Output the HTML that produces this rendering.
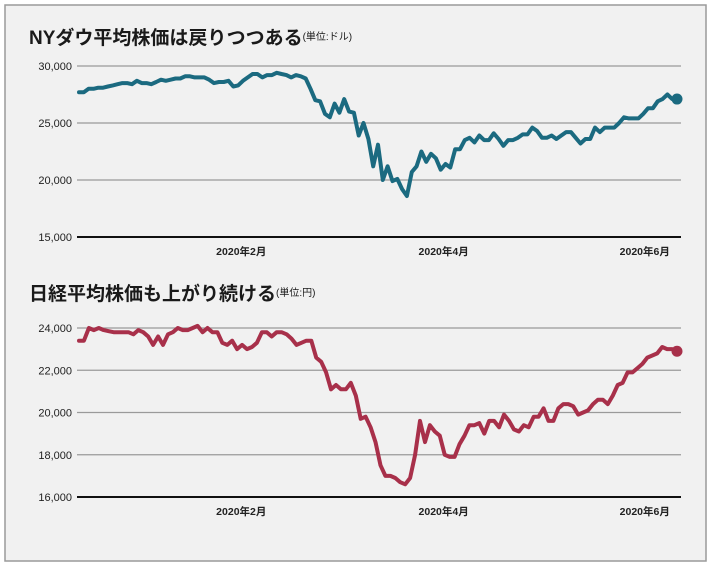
<!DOCTYPE html>
<html><head><meta charset="utf-8">
<style>
html,body{margin:0;padding:0;background:#fff;}
body{width:710px;height:566px;overflow:hidden;font-family:"Liberation Sans","Noto Sans CJK JP",sans-serif;}
</style></head>
<body>
<svg id="svg" width="710" height="566" xmlns="http://www.w3.org/2000/svg">
<rect x="5" y="5" width="701" height="556" fill="#f1f1f1" stroke="#9a9a9a" stroke-width="1.5"/>
<text x="29" y="44" font-size="19" font-weight="bold" fill="#1a1a1a" font-family="'Liberation Sans','Noto Sans CJK JP',sans-serif">NYダウ平均株価は戻りつつある<tspan font-size="10" font-weight="normal" dy="-4">(単位:ドル)</tspan></text>
<text x="29" y="300" font-size="19" font-weight="bold" fill="#1a1a1a" font-family="'Liberation Sans','Noto Sans CJK JP',sans-serif">日経平均株価も上がり続ける<tspan font-size="10" font-weight="normal" dy="-4">(単位:円)</tspan></text>
<g id="g1"></g><g id="g2"></g>
</svg>
<script>
const dowTicks=[15000,20000,25000,30000];
const dowTickLabels=["15,000","20,000","25,000","30,000"];
const dowValues=[27.7,27.7,28.0,28.0,28.1,28.1,28.2,28.3,28.4,28.5,28.5,28.4,28.7,28.5,28.5,28.4,28.6,28.8,28.7,28.8,28.9,28.9,29.1,29.1,29.0,29.0,29.0,28.8,28.5,28.6,28.6,28.7,28.2,28.3,28.7,29.0,29.3,29.3,29.0,29.2,29.2,29.4,29.3,29.2,29.0,29.2,29.1,28.9,28.0,27.0,26.9,25.8,25.5,26.7,25.9,27.1,26.0,25.9,23.9,25.0,23.6,21.2,23.1,20.0,21.2,19.9,20.1,19.2,18.6,20.7,21.2,22.5,21.6,22.3,21.9,20.9,21.4,21.1,22.7,22.7,23.5,23.7,23.3,23.9,23.5,23.5,24.1,23.6,23.0,23.5,23.5,23.7,24.0,24.0,24.6,24.3,23.7,23.7,23.9,23.6,23.9,24.2,24.2,23.7,23.2,23.6,23.6,24.6,24.2,24.6,24.6,24.6,25.0,25.5,25.4,25.4,25.4,25.8,26.3,26.3,26.9,27.1,27.5,27.1,27.1];
const nikkeiTicks=[16000,18000,20000,22000,24000];
const nikkeiTickLabels=["16,000","18,000","20,000","22,000","24,000"];
const nikkeiValues=[23.4,23.4,24.0,23.9,24.0,23.9,23.85,23.8,23.8,23.8,23.8,23.7,23.9,23.8,23.6,23.2,23.6,23.2,23.7,23.8,24.0,23.9,23.9,24.0,24.1,23.8,24.0,23.8,23.8,23.3,23.2,23.4,23.0,23.2,23.0,23.1,23.3,23.8,23.8,23.6,23.8,23.8,23.7,23.5,23.2,23.3,23.4,23.4,22.6,22.4,21.9,21.1,21.3,21.1,21.1,21.4,20.8,19.7,19.8,19.3,18.6,17.5,17.0,17.0,16.9,16.7,16.6,16.9,18.0,19.6,18.6,19.4,19.1,18.9,18.0,17.9,17.9,18.5,18.9,19.4,19.4,19.5,19.0,19.6,19.6,19.3,19.9,19.6,19.2,19.1,19.4,19.3,19.8,19.8,20.2,19.6,19.6,20.2,20.4,20.4,20.3,19.9,20.0,20.1,20.4,20.6,20.6,20.4,20.8,21.3,21.4,21.9,21.9,22.1,22.3,22.6,22.7,22.8,23.1,23.0,23.0,22.9];
const monthLabels=["2020年2月","2020年4月","2020年6月"];
const monthPos=[0.272,0.607,0.94];
const NS="http://www.w3.org/2000/svg";
function mk(tag,attrs,parent){const e=document.createElementNS(NS,tag);for(const k in attrs)e.setAttribute(k,attrs[k]);parent.appendChild(e);return e;}
function draw(gid,ticks,labels,values,vmin,vmax,yTop,yBot,color,prefix){
  const g=document.getElementById(gid);
  const x0=77,x1=681,lx0=79,lx1=677;
  const y=v=>yBot-(v-vmin)/(vmax-vmin)*(yBot-yTop);
  const x=i=>lx0+i/(values.length-1)*(lx1-lx0);
  ticks.forEach((t,i)=>{
    const l=mk('line',{x1:x0,x2:x1,y1:y(t),y2:y(t),stroke:i===0?'#111':'#9a9a9a','stroke-width':i===0?2:1.2},g);
    
    
    const tx=mk('text',{x:72,y:y(t)+4,'text-anchor':'end','font-size':11,fill:'#222'},g);
    tx.textContent=labels[i];
    
    
  });
  monthLabels.forEach((m,i)=>{
    const tx=mk('text',{x:x0+monthPos[i]*(x1-x0),y:yBot+18,'text-anchor':'middle','font-size':10.5,fill:'#222','font-weight':'bold'},g);
    tx.textContent=m;
    
    
  });
  const pts=values.map((v,i)=>x(i).toFixed(1)+','+y(v*1000).toFixed(1)).join(' ');
  const pl=mk('polyline',{points:pts,fill:'none',stroke:color,'stroke-width':4,'stroke-linejoin':'round','stroke-linecap':'round'},g);
  
  
  const n=values.length-1;
  const c=mk('circle',{cx:x(n),cy:y(values[n]*1000),r:5.5,fill:color},g);
  
  
}
draw('g1',dowTicks,dowTickLabels,dowValues,15000,30000,66,237,'#1b6a80','dow');
draw('g2',nikkeiTicks,nikkeiTickLabels,nikkeiValues,16000,24000,328,497,'#a8304a','nikkei');
</script>
</body></html>
